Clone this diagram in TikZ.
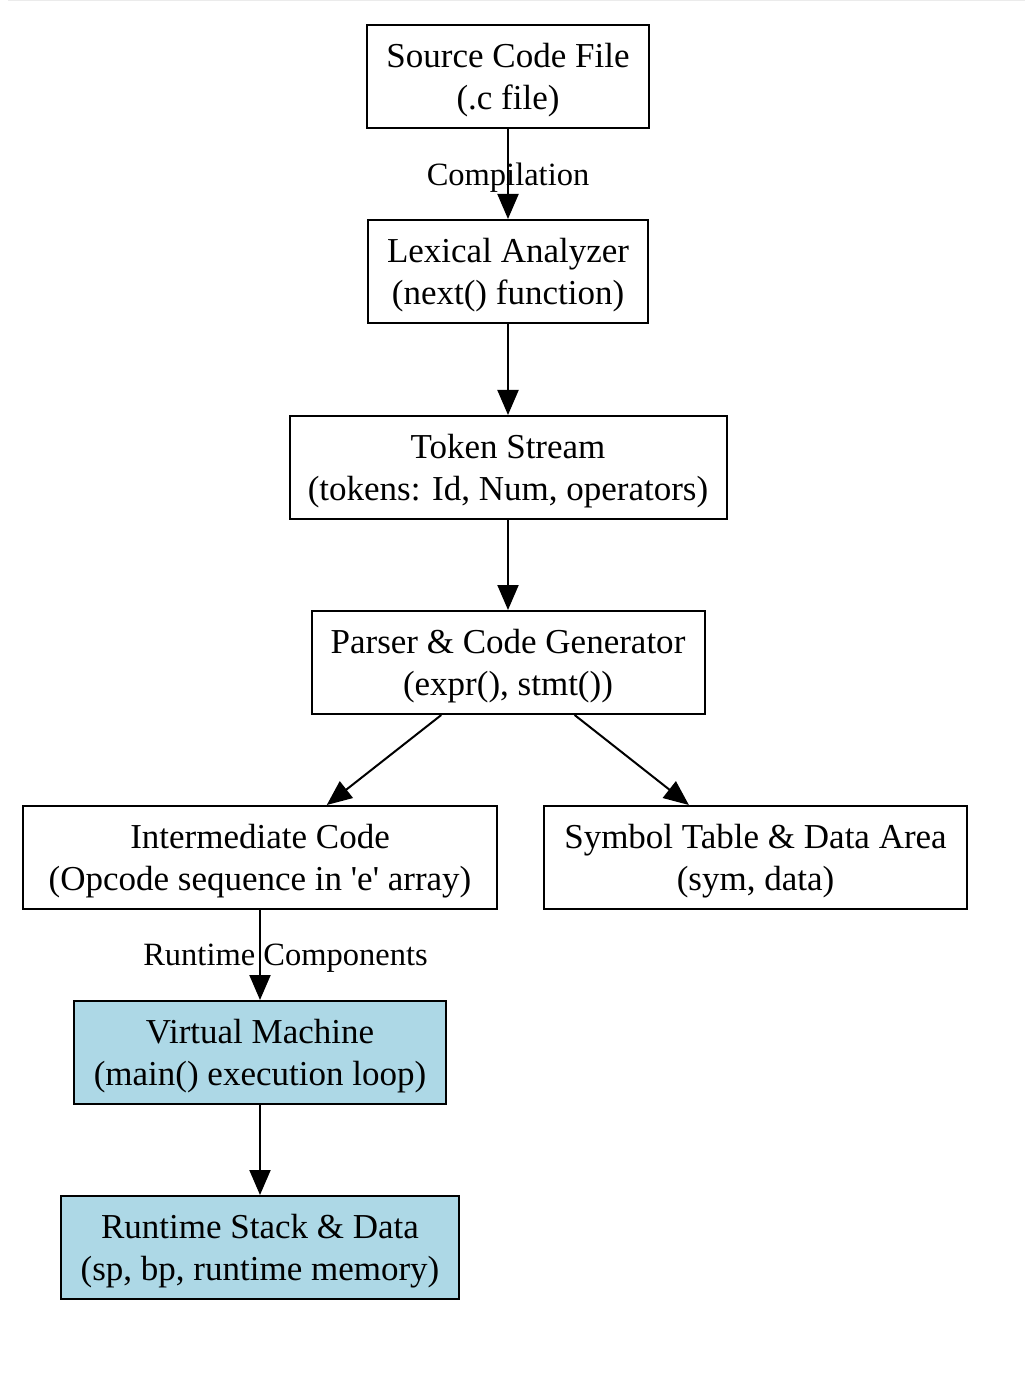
\documentclass[tikz,border=0pt]{standalone}
\usepackage{fontspec}
\setmainfont{Liberation Serif}
\newfontfamily\rawfont{Liberation Serif}
\usetikzlibrary{arrows.meta}
\definecolor{lightblueX}{RGB}{173,216,230}
\tikzset{
  box/.style={draw=black, line width=0.8pt, inner sep=0pt, minimum height=41.2pt},
  vmbox/.style={box, fill=lightblueX},
  boxtext/.style={align=center, inner sep=0pt, yshift=-1.6pt, font=\fontsize{14}{16.8}\selectfont},
  conn/.style={line width=0.8pt, -{Triangle[length=10pt,width=8.4pt]}},
  elabel/.style={font=\fontsize{13}{15.6}\selectfont, inner sep=0pt}
}
\newcommand{\sq}{{\rawfont'}}
\begin{document}
\begin{tikzpicture}[x=0.4pt,y=-0.4pt]
\useasboundingbox (0,0) rectangle (1025,1377);
\draw[black!8, line width=0.4pt] (8,0.5) -- (1025,0.5);
\node[box, minimum width=112.8pt, label={[boxtext]center:{Source Code File\\(.c file)}}] (src) at (508,76.5) {};
\node[box, minimum width=112pt, label={[boxtext]center:{Lexical Analyzer\\(next() function)}}] (lex) at (508,271.5) {};
\node[box, minimum width=174.8pt, label={[boxtext]center:{Token Stream\\(tokens: Id, Num, operators)}}] (tok) at (508,467.5) {};
\node[box, minimum width=157.2pt, label={[boxtext]center:{Parser \& Code Generator\\(expr(), stmt())}}] (par) at (508,662.5) {};
\node[box, minimum width=189.6pt, label={[boxtext]center:{Intermediate Code\\(Opcode sequence in \sq e\sq\ array)}}] (inter) at (260,857.5) {};
\node[box, minimum width=169.2pt, label={[boxtext]center:{Symbol Table \& Data Area\\(sym, data)}}] (sym) at (755.5,857.5) {};
\node[vmbox, minimum width=148.8pt, label={[boxtext]center:{Virtual Machine\\(main() execution loop)}}] (vm) at (260,1052.5) {};
\node[vmbox, minimum width=159.2pt, label={[boxtext]center:{Runtime Stack \& Data\\(sp, bp, runtime memory)}}] (rt) at (260,1247.5) {};
\draw[conn] (src) -- node[elabel, yshift=-1.6pt] {Compilation} (lex);
\draw[conn] (lex) -- (tok);
\draw[conn] (tok) -- (par);
\draw[conn] (par) -- (inter);
\draw[conn] (par) -- (sym);
\draw[conn] (inter) -- node[elabel, xshift=10.2pt, yshift=-1.4pt] {Runtime Components} (vm);
\draw[conn] (vm) -- (rt);
\end{tikzpicture}
\end{document}
